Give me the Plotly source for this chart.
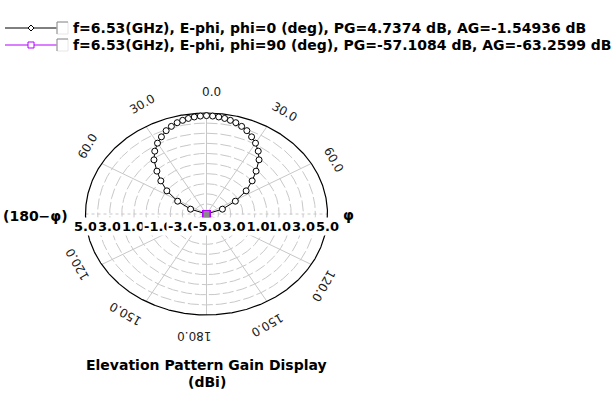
import numpy as np
import plotly.graph_objects as go

# ---- data -------------------------------------------------------------
theta_deg = [-90, -78, -70, -62, -55, -49, -44, -39, -34.5, -30, -26, -22,
             -18.5, -15, -12, -9, -6, -3, 0, 3, 6, 9, 12, 15, 18.5, 22, 26,
             30, 34.5, 39, 44, 49, 55, 62, 70, 78, 90]

# E-phi, phi = 0 deg (dB)
gain_phi0_db = [-8.4, -5.5, -3.6, -2.3, -1.0, 0.0, 0.9, 1.9, 2.55, 3.1,
                3.5, 3.9, 4.15, 4.36, 4.48, 4.58, 4.66, 4.71, 4.74, 4.71,
                4.66, 4.58, 4.48, 4.36, 4.15, 3.9, 3.5, 3.1, 2.55, 1.9, 0.9,
                0.0, -1.0, -2.3, -3.6, -5.5, -8.4]

# E-phi, phi = 90 deg (dB)
gain_phi90_db = [-75.2, -72.8, -70.9, -69.1, -67.4, -65.8, -64.3, -62.9,
                 -61.7, -60.6, -59.7, -58.9, -58.3, -57.8, -57.4, -57.2,
                 -57.1, -57.1, -57.1, -57.1, -57.1, -57.2, -57.4, -57.8,
                 -58.3, -58.9, -59.7, -60.6, -61.7, -62.9, -64.3, -65.8,
                 -67.4, -69.1, -70.9, -72.8, -75.2]

legend_labels = [
    "f=6.53(GHz), E-phi, phi=0 (deg), PG=4.7374 dB, AG=-1.54936 dB",
    "f=6.53(GHz), E-phi, phi=90 (deg), PG=-57.1084 dB, AG=-63.2599 dB",
]
series_colors = ["#000000", "#b400ff"]

angle_ticks_deg = [0, 30, 60, 120, 150, 180, -30, -60, -120, -150]
radial_ticks_db = [-5, -3, -1, 1, 3, 5]
grid_circles_db = [-4, -3, -2, -1, 0, 1, 2, 3, 4]
spokes_deg = [0, 30, 60, 120, 150, 180, 210, 240, 300, 330]

R_MIN, R_MAX = -5.0, 5.0

# ---- layout geometry (pixels) ----------------------------------------
W, H = 612, 398
CX, CY = 206.5, 214.0      # pole of the pattern
RX, RY = 121.0, 101.0      # half-axes of the outer ring
FONT = "DejaVu Sans, Verdana, sans-serif"


def polar_xy(theta, db):
    """Elevation angle (deg, clockwise from zenith) and gain -> plot coords."""
    t = np.radians(np.asarray(theta, dtype=float))
    rho = np.clip((np.asarray(db, dtype=float) - R_MIN) / (R_MAX - R_MIN), 0, 1)
    return rho * np.sin(t), rho * np.cos(t)


def px(x):
    return x / W


def py(y):
    return 1 - y / H


fig = go.Figure()
ring = np.linspace(0, 360, 721)

# dashed grid rings
for db in grid_circles_db:
    x, y = polar_xy(ring, np.full_like(ring, db))
    fig.add_trace(go.Scatter(x=x, y=y, mode="lines", hoverinfo="skip",
                             line=dict(color="#c8c8c8", width=1, dash="11px,3px"),
                             showlegend=False))

# spokes
for a in spokes_deg:
    x, y = polar_xy([a, a], [R_MIN, R_MAX])
    fig.add_trace(go.Scatter(x=x, y=y, mode="lines", hoverinfo="skip",
                             line=dict(color="#c8c8c8", width=1),
                             showlegend=False))
x, y = polar_xy([-90, 90], [R_MAX, R_MAX])
fig.add_trace(go.Scatter(x=x, y=y, mode="lines", hoverinfo="skip",
                         line=dict(color="#c8c8c8", width=1, dash="dot"),
                         showlegend=False))

# outer ring
x, y = polar_xy(ring, np.full_like(ring, R_MAX))
fig.add_trace(go.Scatter(x=x, y=y, mode="lines", hoverinfo="skip",
                         line=dict(color="#000000", width=1.2),
                         showlegend=False))

# pattern curves
x, y = polar_xy(theta_deg, gain_phi0_db)
fig.add_trace(go.Scatter(x=x, y=y, mode="lines+markers", name=legend_labels[0],
                         line=dict(color=series_colors[0], width=1),
                         marker=dict(symbol="circle", size=6, color="white",
                                     line=dict(color=series_colors[0], width=1)),
                         showlegend=False))
x, y = polar_xy(theta_deg, gain_phi90_db)
fig.add_trace(go.Scatter(x=x, y=y, mode="lines+markers", name=legend_labels[1],
                         line=dict(color=series_colors[1], width=1),
                         marker=dict(symbol="square", size=7, color="#8a8a8a",
                                     line=dict(color=series_colors[1], width=1.2)),
                         showlegend=False))

annotations = []
shapes = []

# angular labels, written along the ring
for a in angle_ticks_deg:
    txt = f"{abs(a):.1f}"
    t = np.radians(a)
    w = 7.0 * (len(txt) - 1) + 3.5
    shift = w / 2 - 4
    dx = (RX + 21) * np.sin(t) + shift * np.cos(t)
    dy = -(RY + 21) * np.cos(t) + shift * np.sin(t)     # screen, down positive
    annotations.append(dict(x=dx / RX, y=-dy / RY, xref="x", yref="y",
                            text=txt, showarrow=False, textangle=a,
                            xanchor="center", yanchor="middle",
                            font=dict(family=FONT, size=12, color="#202020")))


# radial labels along the horizontal axis (outer ones first, pole last)
def radial_label(db, side):
    x, _ = polar_xy([90 * side], [db])
    return dict(x=x[0], y=-12 / RY, xref="x", yref="y", text=f"{db:.1f}",
                showarrow=False, xanchor="center", yanchor="middle",
                bgcolor="white", borderpad=1,
                font=dict(family=FONT, size=13, color="#000000", weight="bold"))


for db in sorted(radial_ticks_db, reverse=True)[:-1]:
    annotations.append(radial_label(db, -1))
for db in sorted(radial_ticks_db, reverse=True)[:-1]:
    annotations.append(radial_label(db, 1))
annotations.append(radial_label(radial_ticks_db[0], 1))

annotations.append(dict(x=px(35), y=py(216), xref="paper", yref="paper",
                        text="(180\u2212\u03c6)", showarrow=False,
                        xanchor="center", yanchor="middle",
                        font=dict(family=FONT, size=14, color="#000000", weight="bold")))
annotations.append(dict(x=px(348), y=py(215), xref="paper", yref="paper",
                        text="\u03c6", showarrow=False,
                        xanchor="center", yanchor="middle",
                        font=dict(family=FONT, size=14, color="#000000", weight="bold")))

# title
annotations.append(dict(x=px(CX), y=py(365), xref="paper", yref="paper",
                        text="Elevation Pattern Gain Display", showarrow=False,
                        xanchor="center", yanchor="middle",
                        font=dict(family=FONT, size=14, color="#000000", weight="bold")))
annotations.append(dict(x=px(CX), y=py(382), xref="paper", yref="paper",
                        text="(dBi)", showarrow=False,
                        xanchor="center", yanchor="middle",
                        font=dict(family=FONT, size=14, color="#000000", weight="bold")))

# legend rows: line sample, marker, check box, label
row_y = [28, 45]
for i, (lab, col) in enumerate(zip(legend_labels, series_colors)):
    yy = row_y[i]
    shapes.append(dict(type="line", xref="paper", yref="paper",
                       x0=px(5), x1=px(57), y0=py(yy), y1=py(yy),
                       line=dict(color=col, width=1)))
    if i == 0:
        shapes.append(dict(type="path", xref="paper", yref="paper",
                           path=f"M {px(31)},{py(yy-3)} L {px(34)},{py(yy)} "
                                f"L {px(31)},{py(yy+3)} L {px(28)},{py(yy)} Z",
                           fillcolor="white", line=dict(color=col, width=1)))
    else:
        shapes.append(dict(type="rect", xref="paper", yref="paper",
                           x0=px(28), x1=px(34), y0=py(yy-3), y1=py(yy+3),
                           fillcolor="white", line=dict(color=col, width=1)))
    # check box (sunken look)
    shapes.append(dict(type="rect", xref="paper", yref="paper",
                       x0=px(57), x1=px(68), y0=py(yy-6), y1=py(yy+6),
                       fillcolor="white", line=dict(color="#e6e6e6", width=1)))
    shapes.append(dict(type="path", xref="paper", yref="paper",
                       path=f"M {px(57)},{py(yy+6)} L {px(57)},{py(yy-6)} L {px(68)},{py(yy-6)}",
                       line=dict(color="#8a8a8a", width=1)))
    annotations.append(dict(x=px(71), y=py(yy), xref="paper", yref="paper",
                            text=lab, showarrow=False, xanchor="left",
                            yanchor="middle",
                            font=dict(family=FONT, size=14, color="#000000",
                                      weight="bold")))

fig.update_layout(
    width=W, height=H,
    margin=dict(l=0, r=0, t=0, b=0),
    paper_bgcolor="white", plot_bgcolor="white",
    xaxis=dict(range=[-CX / RX, (W - CX) / RX], visible=False, fixedrange=True),
    yaxis=dict(range=[-(H - CY) / RY, CY / RY], visible=False, fixedrange=True),
    annotations=annotations, shapes=shapes,
    showlegend=False,
)

fig.write_html("out.html")
